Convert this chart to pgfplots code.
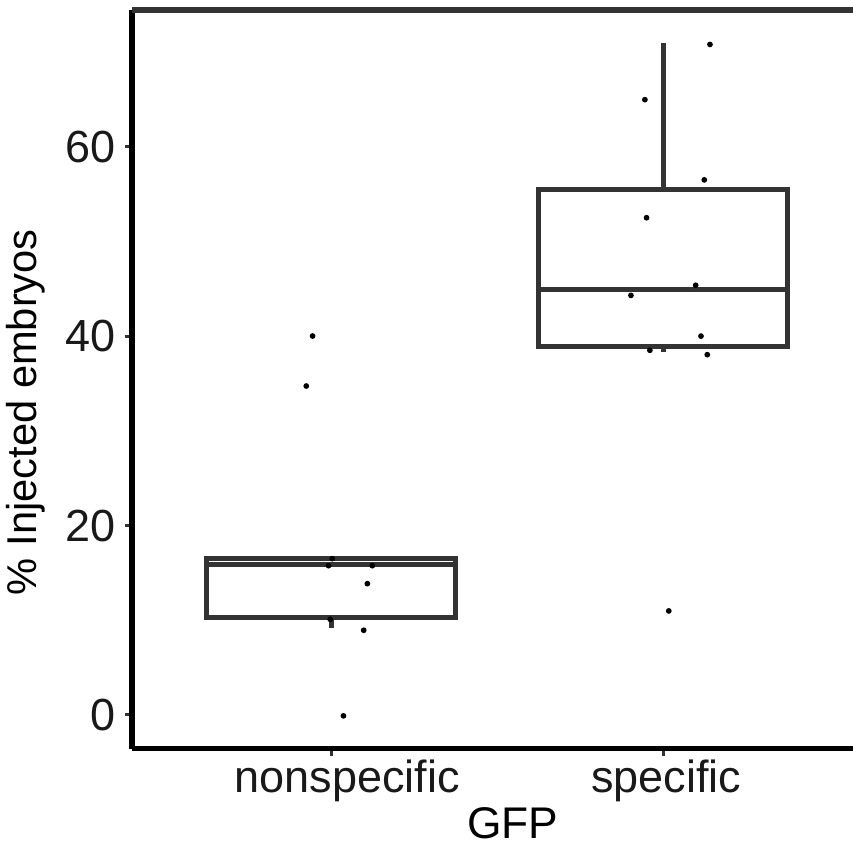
\documentclass[border=0pt]{standalone}
\usepackage{fontspec}
\setmainfont{Liberation Sans}
\usepackage{pgfplots}
\pgfplotsset{compat=1.18}
\usepgfplotslibrary{statistics}
\definecolor{boxgrey}{HTML}{333333}

\begin{document}
\begin{tikzpicture}
\begin{axis}[
    scale only axis,
    width=216.3pt, height=221.6pt,
    xmin=0.4, xmax=2.572,
    ymin=-3.55, ymax=74.45,
    axis x line*=bottom, axis y line*=left,
    axis line style={-, line width=1.6pt, black},
    xtick={1,2}, xticklabels={\hspace{9.6pt}nonspecific, \hspace{2pt}specific},
    ytick={0,20,40,60},
    tick align=outside,
    major tick length=2.1pt,
    tick style={line width=0.9pt, boxgrey},
    /pgf/number format/assume math mode=true,
    ticklabel style={font=\fontsize{13.5}{15}\selectfont, text=black!90},
    yticklabel style={inner sep=0pt, xshift=-2.7pt},
    xticklabel style={anchor=base, inner sep=0pt, yshift=-11.1pt},
    ylabel={\% Injected embryos},
    ylabel style={at={(rel axis cs:-0.119,0.4555)}, anchor=south, inner sep=0pt,
        font=\fontsize{12.5}{15}\selectfont},
    xlabel={GFP},
    xlabel style={at={(rel axis cs:0.528,0)}, anchor=base, inner sep=0pt, yshift=-26.85pt,
        font=\fontsize{13.3}{15}\selectfont},
    boxplot/draw direction=y,
    clip=false,
]
% boxes (ggplot style, no whisker caps)
\addplot[draw=boxgrey, line width=1.5pt, fill=white,
    boxplot prepared={draw position=1, box extend=0.75, whisker extend=0,
        lower whisker=9.15, lower quartile=10.31, median=15.84,
        upper quartile=16.54, upper whisker=16.54}]
    coordinates {};
\addplot[draw=boxgrey, line width=1.5pt, fill=white,
    boxplot prepared={draw position=2, box extend=0.75, whisker extend=0,
        lower whisker=38.36, lower quartile=38.88, median=44.97,
        upper quartile=55.53, upper whisker=70.9}]
    coordinates {};
% jittered points
\addplot[only marks, mark=*, mark size=0.65pt, black] coordinates {
    (0.944,40.01) (0.925,34.73) (1.003,16.5) (0.992,15.76) (1.124,15.76)
    (1.109,13.86) (0.997,10.1) (1.098,8.94) (1.037,-0.1)
};
\addplot[only marks, mark=*, mark size=0.65pt, black] coordinates {
    (2.141,70.8) (1.945,64.97) (2.124,56.5) (1.950,52.5) (2.098,45.37)
    (1.903,44.3) (2.114,40.0) (1.960,38.5) (2.133,38.04) (2.017,10.98)
};
% top border of panel
\draw[line width=1.8pt, boxgrey] (rel axis cs:0,1) -- (rel axis cs:1,1);
\end{axis}
\pgfresetboundingbox
\path[use as bounding box] (-39.6pt,-28.35pt) rectangle (216.3pt,224.55pt);
\end{tikzpicture}
\end{document}
